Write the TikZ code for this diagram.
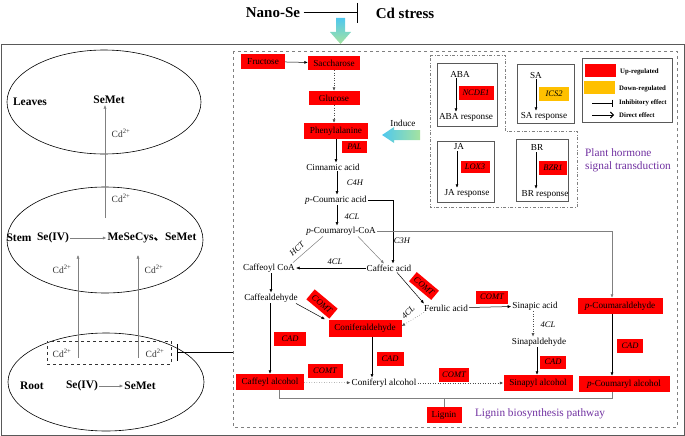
\documentclass[tikz,border=0pt]{standalone}
\usepackage{fontspec}
\setmainfont{Liberation Serif}
\newfontfamily\cjk{Noto Sans CJK SC}
\usetikzlibrary{arrows.meta,positioning}
\definecolor{upred}{HTML}{FF0000}
\definecolor{downorange}{HTML}{FFC000}
\definecolor{pathpurple}{HTML}{7030A0}
\definecolor{linegray}{HTML}{595959}
\definecolor{induceblue}{HTML}{4FC8EE}
\definecolor{inducegreen}{HTML}{A5E3A0}

\tikzset{
  lbl/.style={font=\fontsize{9.2}{10}\selectfont, inner sep=1pt},
  bld/.style={font=\fontsize{11.5}{12}\selectfont\bfseries, inner sep=1pt},
  cdion/.style={font=\fontsize{9.5}{10}\selectfont, inner sep=1pt, text=black!80},
  upbox/.style={fill=upred, inner sep=1pt, font=\fontsize{9.2}{10}\selectfont},
  enzbox/.style={upbox, font=\fontsize{8.5}{10}\selectfont\itshape},
  enz/.style={font=\fontsize{8.5}{10}\selectfont\itshape, inner sep=1pt},
  arr/.style={-{Latex[length=3.5pt,width=3pt]}, line width=0.5pt},
  garr/.style={arr, draw=gray},
  darr/.style={arr, dotted, draw=black!70, line width=0.5pt},
  hbox/.style={draw=linegray, line width=0.9pt},
  legtxt/.style={font=\fontsize{6.8}{8}\selectfont\bfseries, anchor=west, inner sep=0pt},
  purp/.style={font=\fontsize{11.3}{13}\selectfont, text=pathpurple, inner sep=0pt},
}

\begin{document}
\begin{tikzpicture}[x=1pt,y=-1pt]
  \useasboundingbox (0,0) rectangle (685,436);

  %title
  \node[font=\fontsize{15}{16}\selectfont\bfseries] (nano) at (273,13) {Nano-Se};
  \node[font=\fontsize{15}{16}\selectfont\bfseries] (cdstress) at (405,13) {Cd stress};
  \coordinate (nanobar) at (358,13);
  \draw[line width=1pt,-{Bar[width=20pt]}] (nano.east) -- (nanobar);
  \shade[top color=induceblue,bottom color=inducegreen] (336,18) -- (345,18) -- (345,32) -- (351,32)
    -- (340.5,44) -- (330,32) -- (336,32) -- cycle;

  %frames
  \draw[linegray,line width=0.9pt] (1,44) rectangle (684,435);
  \draw[gray,dashed,line width=0.7pt] (233,51) rectangle (677,427);

  %left panel
  \draw[line width=0.6pt] (104,102) ellipse (97 and 52);
  \draw[line width=0.6pt] (105,240) ellipse (98 and 53);
  \draw[line width=0.6pt] (106,382) ellipse (98 and 49);
  %leaves
  \node[bld] (leaves) at (30,102) {Leaves};
  \node[bld] (semetL) at (109,100) {SeMet};
  \node[cdion] (cdA) at (121,133) {Cd\textsuperscript{2+}};
  \node[cdion] (cdB) at (121,198) {Cd\textsuperscript{2+}};
  \coordinate (stemout) at (105,218);
  \draw[garr] (stemout) -- (stemout |- semetL.south);
  %stem
  \node[bld] (stem) at (19,238) {Stem};
  \node[bld] (seivS) at (53,238) {Se(IV)};
  \node[bld] (meseCys) at (152,238) {MeSeCys{\cjk 、}SeMet};
  \draw[garr] (seivS) -- (meseCys);
  \node[cdion] (cdC) at (62,269) {Cd\textsuperscript{2+}};
  \node[cdion] (cdD) at (154,269) {Cd\textsuperscript{2+}};
  \coordinate (rootL) at (78,358);
  \coordinate (rootR) at (138,358);
  \coordinate (stemL) at (78,255);
  \coordinate (stemR) at (138,255);
  \draw[garr] (rootL) -- (stemL);
  \draw[garr] (rootR) -- (stemR);
  %root
  \node[draw=black!80,dashed,line width=0.4pt,minimum width=124pt,minimum height=23pt] (cdbox) at (109,352.5) {};
  \node[cdion] (cdE) at (62,353) {Cd\textsuperscript{2+}};
  \node[cdion] (cdF) at (155,353) {Cd\textsuperscript{2+}};
  \node[bld] (root) at (32,386) {Root};
  \node[bld] (seivR) at (82,386) {Se(IV)};
  \node[bld] (semetR) at (140,386) {SeMet};
  \draw[garr] (seivR) -- (semetR);
  \coordinate (pathedge) at (233,352);
  \coordinate (cdbar) at (177,352);
  \draw[line width=1pt,-{Bar[width=17pt]}] (pathedge) -- (cdbar);

  %lignin pathway
  \node[upbox,minimum width=44pt,minimum height=15pt] (fructose) at (263,61.5) {Fructose};
  \node[upbox,minimum width=52pt,minimum height=14pt] (saccharose) at (334,63) {Saccharose};
  \node[upbox,minimum width=51pt,minimum height=14pt] (glucose) at (334,98) {Glucose};
  \node[upbox,minimum width=64pt,minimum height=16pt] (phe) at (336,131) {Phenylalanine};
  \node[enzbox,minimum width=25pt,minimum height=12pt] (pal) at (354.5,147) {PAL};
  \node[lbl] (cinnamic) at (333,167) {Cinnamic acid};
  \node[enz] (cfh) at (355,183) {C4H};
  \node[lbl] (pcoumaric) at (336,200) {\textit{p}-Coumaric acid};
  \node[enz] (fclA) at (352,217) {4CL};
  \node[lbl] (pcoumaroyl) at (341,231) {\textit{p}-Coumaroyl-CoA};
  \node[enz] (cth) at (402,241) {C3H};
  \node[enz,rotate=42] (hct) at (297,249) {HCT};
  \node[lbl] (caffeoyl) at (269,268) {Caffeoyl CoA};
  \node[lbl] (caffeic) at (389,268) {Caffeic acid};
  \node[enz] (fclB) at (335,262) {4CL};
  \node[lbl] (caffeald) at (271,298) {Caffealdehyde};
  \node[enzbox,rotate=-40,minimum width=30pt,minimum height=13pt] (comtA) at (322,304) {COMT};
  \node[enzbox,rotate=-40,minimum width=29pt,minimum height=12pt] (comtB) at (424,286) {COMT};
  \node[lbl] (ferulic) at (446,308) {Ferulic acid};
  \node[enzbox,minimum width=32pt,minimum height=13pt] (comtC) at (492,297) {COMT};
  \node[lbl] (sinapic) at (535,306) {Sinapic acid};
  \node[enz,rotate=45] (fclC) at (408,312) {4CL};
  \node[upbox,minimum width=73pt,minimum height=17pt] (conald) at (365,328) {Coniferaldehyde};
  \node[enzbox,minimum width=32pt,minimum height=14pt] (cadA) at (290,339) {CAD};
  \node[upbox,minimum width=68pt,minimum height=16pt] (caffeyl) at (270,382) {Caffeyl alcohol};
  \node[enzbox,minimum width=27pt,minimum height=14pt] (cadB) at (390,359) {CAD};
  \node[enzbox,minimum width=35pt,minimum height=14pt] (comtD) at (325,371) {COMT};
  \node[lbl] (coniferyl) at (384,383) {Coniferyl alcohol};
  \node[enzbox,minimum width=30pt,minimum height=14pt] (comtE) at (454,375) {COMT};
  \node[lbl] (sinapald) at (539,342) {Sinapaldehyde};
  \node[enz] (fclD) at (548,325) {4CL};
  \node[enzbox,minimum width=26pt,minimum height=13pt] (cadC) at (553,362) {CAD};
  \node[upbox,minimum width=69pt,minimum height=16pt] (sinapyl) at (538,383) {Sinapyl alcohol};
  \node[upbox,minimum width=85pt,minimum height=16pt] (pcald) at (620,306) {\textit{p}-Coumaraldehyde};
  \node[enzbox,minimum width=26pt,minimum height=14pt] (cadD) at (630,346) {CAD};
  \node[upbox,minimum width=91pt,minimum height=16pt] (pcalc) at (624,384) {\textit{p}-Coumaryl alcohol};
  \node[upbox,minimum width=35pt,minimum height=16pt] (lignin) at (444,415) {Lignin};
  \node[purp] (lignlabel) at (540,414) {Lignin biosynthesis pathway};

  %pathway arrows
  \draw[arr] (fructose) -- (saccharose);
  \draw[darr] (saccharose) -- (glucose);
  \draw[darr] (glucose.south) -- (glucose.south |- phe.north);
  \draw[arr] (phe.south) -- (phe.south |- cinnamic.north);
  \draw[arr] ([xshift=4pt]cinnamic.south) -- ([xshift=1pt]pcoumaric.north);
  \draw[arr] ([xshift=1pt]pcoumaric.south) -- ([xshift=-4pt]pcoumaroyl.north);
  \draw[arr] (pcoumaric.east) -| ([xshift=4pt]caffeic.north);
  \draw[garr] (pcoumaroyl.east) -| ([xshift=-8pt]pcald.north);
  \draw[gray,line width=0.5pt] ([xshift=-18pt]pcoumaroyl.south) -- ([xshift=24pt]caffeoyl.north);
  \draw[garr] ([xshift=17pt]pcoumaroyl.south) -- ([xshift=-5pt]caffeic.north);
  \draw[arr] (caffeic) -- (caffeoyl);
  \draw[arr] ([xshift=2pt]caffeoyl.south) -- ([xshift=0pt]caffeald.north);
  \draw[arr] ([xshift=8pt]caffeic.south) -- ([xshift=-22pt]ferulic.north);
  \draw[arr] (ferulic) -- (sinapic);
  \draw[darr] ([xshift=-22pt]ferulic.south) -- ([yshift=2pt]conald.east);
  \draw[arr] ([xshift=25pt]caffeald.south) -- ([xshift=-40pt]conald.north);
  \draw[arr] (caffeald.south -| caffeyl.north) -- (caffeyl.north);
  \draw[arr] ([xshift=7pt]conald.south) -- ([xshift=7pt]conald.south |- coniferyl.north);
  \draw[darr] (caffeyl) -- (coniferyl);
  \draw[darr] (coniferyl) -- (sinapyl);
  \draw[darr] ([xshift=-2pt]sinapic.south) -- ([xshift=-2pt]sinapic.south |- sinapald.north);
  \draw[arr] ([xshift=-2pt]sinapald.south) -- ([xshift=-2pt]sinapald.south |- sinapyl.north);
  \draw[arr] ([xshift=-8pt]pcald.south) -- ([xshift=-8pt]pcald.south |- pcalc.north);
  %lignin bracket
  \coordinate (brL) at (279,398);
  \coordinate (brR) at (612,398);
  \draw[gray,line width=0.6pt] (brL |- caffeyl.south) -- (brL) -- (brR) -- (brR |- pcalc.south);
  \draw[gray,line width=0.6pt] (lignin.north) -- (lignin.north |- brL);

  %induce
  \node[lbl] (induce) at (403,123) {Induce};
  \shade[left color=induceblue,right color=inducegreen] (420,130) -- (394,130) -- (394,127) -- (382,135)
    -- (394,143) -- (394,140) -- (420,140) -- cycle;

  %plant hormone
  \draw[gray,dash dot,line width=0.6pt] (430,55) -- (505,55) -- (505,131) -- (577,131) -- (577,207) -- (430,207) -- cycle;
  \node[hbox,minimum width=60pt,minimum height=63pt] (abaBox) at (467,94.5) {};
  \node[lbl] (aba) at (460,74) {ABA};
  \node[enzbox,minimum width=35pt,minimum height=14pt] (ncde) at (476,93) {NCDE1};
  \node[lbl] (abaResp) at (466,117) {ABA response};
  \draw[arr] ([xshift=-4pt]aba.south) -- ([xshift=-4pt]aba.south |- abaResp.north);
  \node[hbox,minimum width=57pt,minimum height=59pt] (saBox) at (545.5,93.5) {};
  \node[lbl] (sa) at (536,75) {SA};
  \node[enzbox,fill=downorange,minimum width=30pt,minimum height=14pt] (ics) at (554,94) {ICS2};
  \node[lbl] (saResp) at (544,116) {SA response};
  \draw[arr] (sa.south) -- (sa.south |- saResp.north);
  \node[hbox,minimum width=57pt,minimum height=61pt] (jaBox) at (465.5,171.5) {};
  \node[lbl] (ja) at (459,147) {JA};
  \node[enzbox,minimum width=29pt,minimum height=12pt] (lox) at (475,167) {LOX3};
  \node[lbl] (jaResp) at (467,193) {JA response};
  \draw[arr] ([xshift=-2pt]ja.south) -- ([xshift=-2pt]ja.south |- jaResp.north);
  \node[hbox,minimum width=52pt,minimum height=62pt] (brBox) at (542,170) {};
  \node[lbl] (br) at (537,148) {BR};
  \node[enzbox,minimum width=28pt,minimum height=14pt] (bzr) at (553,168) {BZR1};
  \node[lbl] (brResp) at (545,194) {BR response};
  \draw[arr] ([xshift=-1pt]br.south) -- ([xshift=-1pt]br.south |- brResp.north);
  \node[purp,anchor=west,align=left] (hormlabel) at (585,160) {Plant hormone\\signal transduction};

  %legend
  \node[hbox,minimum width=90pt,minimum height=64pt] (legend) at (627,90) {};
  \node[fill=upred,minimum width=31pt,minimum height=13pt,inner sep=0pt] (legUp) at (600.5,70.5) {};
  \node[fill=downorange,minimum width=31pt,minimum height=13pt,inner sep=0pt] (legDown) at (599.5,87.5) {};
  \node[legtxt] (legUpTxt) at (620,72) {Up-regulated};
  \node[legtxt] (legDownTxt) at (619,89) {Down-regulated};
  \node[legtxt] (legInhTxt) at (619,103) {Inhibitory effect};
  \node[legtxt] (legDirTxt) at (619,115) {Direct effect};
  \coordinate (legInhA) at (592,103);
  \coordinate (legInhB) at (613,103);
  \coordinate (legDirA) at (592,115);
  \coordinate (legDirB) at (614,115);
  \draw[line width=0.9pt,-{Bar[width=7pt]}] (legInhA) -- (legInhB);
  \draw[line width=0.9pt,-{Straight Barb[length=3pt,width=6pt]}] (legDirA) -- (legDirB);
\end{tikzpicture}
\end{document}
